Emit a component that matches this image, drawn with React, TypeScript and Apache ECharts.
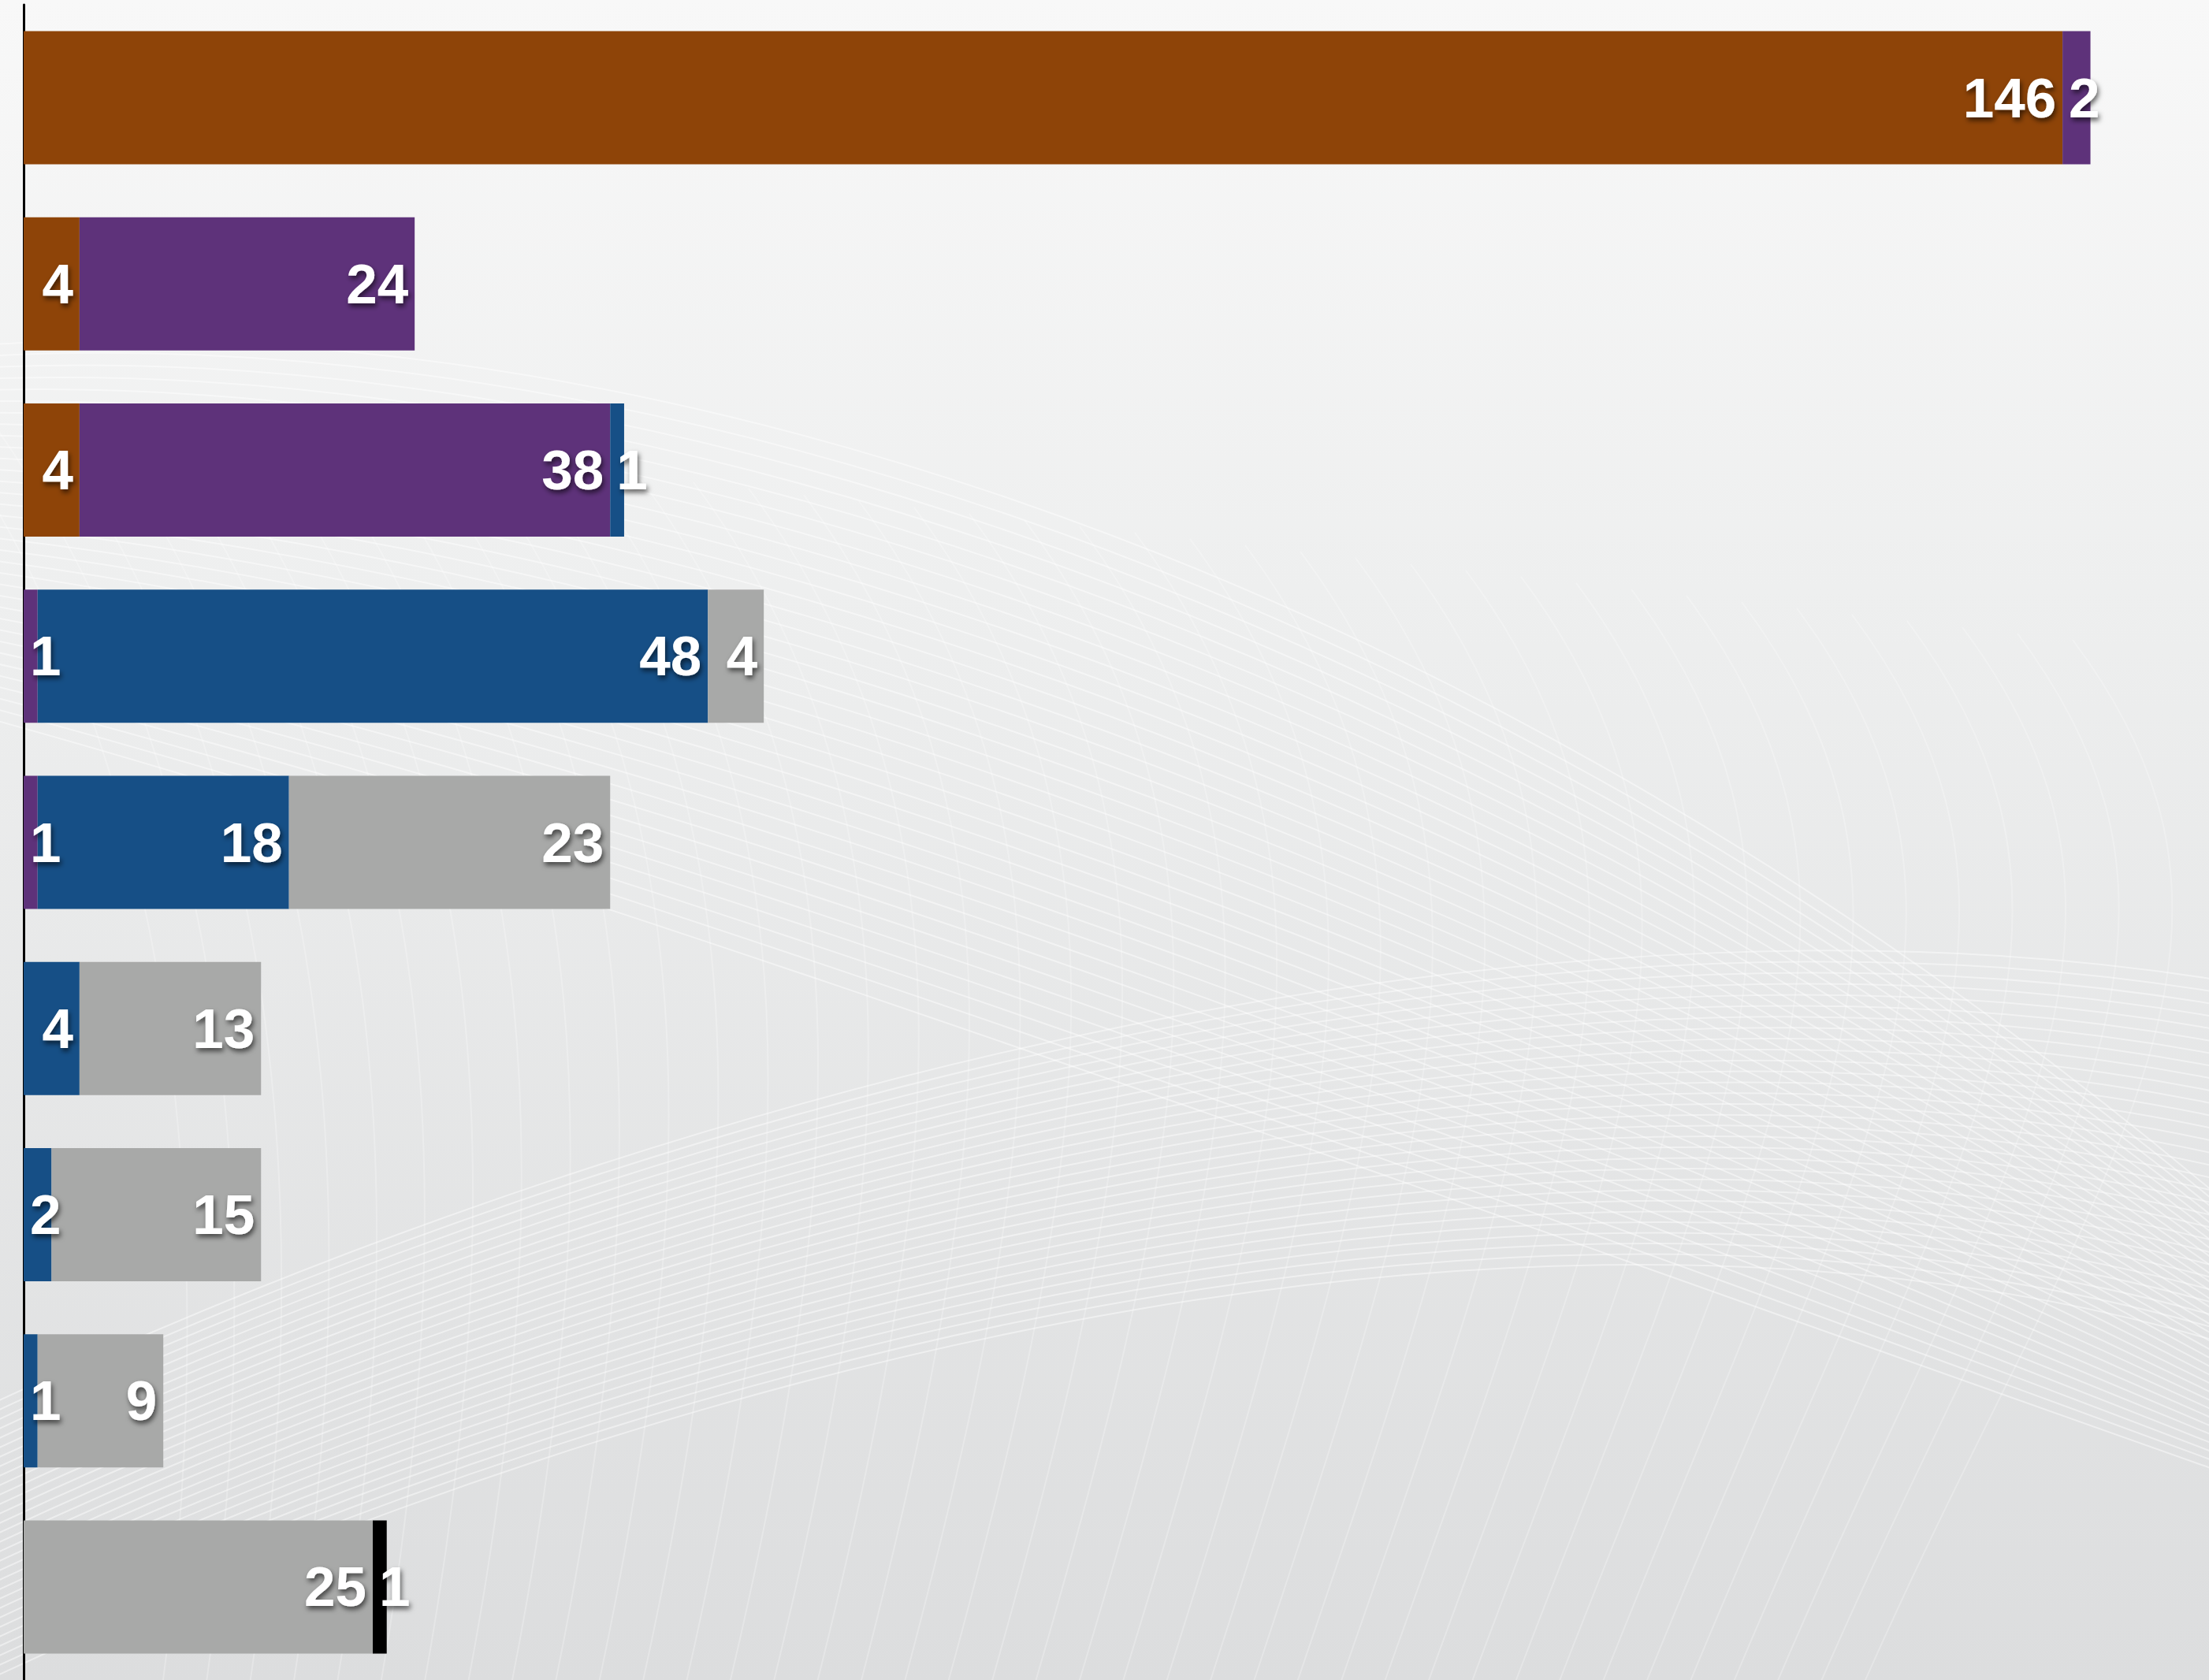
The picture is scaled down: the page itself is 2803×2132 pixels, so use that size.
import React, { useEffect, useRef } from "react";
import * as echarts from "echarts";

const categories = ["A", "B", "C", "D", "E", "F", "G", "H", "I"];
const brownValues = [146, 4, 4, 0, 0, 0, 0, 0, 0];
const purpleValues = [2, 24, 38, 1, 1, 0, 0, 0, 0];
const blueValues = [0, 0, 1, 48, 18, 4, 2, 1, 0];
const grayValues = [0, 0, 0, 4, 23, 13, 15, 9, 25];
const blackValues = [0, 0, 0, 0, 0, 0, 0, 0, 1];

const seriesDefs = [
  { name: "Brown", values: brownValues, color: "#8E4408" },
  { name: "Purple", values: purpleValues, color: "#5E327A" },
  { name: "Blue", values: blueValues, color: "#164F86" },
  { name: "Gray", values: grayValues, color: "#A8A9A8" },
  { name: "Black", values: blackValues, color: "#000000" },
];

const W = 2803;
const H = 2132;

function meshCurves() {
  const els: any[] = [];
  const stroke = "rgba(255,255,255,0.45)";
  // upper wave family
  for (let i = 0; i < 34; i++) {
    els.push({
      type: "bezierCurve",
      silent: true,
      shape: {
        x1: -50, y1: 440 + i * 14,
        cpx1: 700, cpy1: 380 + i * 22,
        cpx2: 1800, cpy2: 650 + i * 26,
        x2: W + 50, y2: 1550 + i * 10,
      },
      style: { stroke, lineWidth: 2, fill: null },
    });
  }
  // lower wave family (parallel strands)
  for (let i = 0; i < 30; i++) {
    els.push({
      type: "bezierCurve",
      silent: true,
      shape: {
        x1: -50, y1: 1800 + i * 12,
        cpx1: 900, cpy1: 1350 + i * 12,
        cpx2: 2000, cpy2: 1100 + i * 12,
        x2: W + 50, y2: 1250 + i * 16,
      },
      style: { stroke, lineWidth: 2, fill: null },
    });
  }
  // crossing strands
  for (let i = 0; i < 40; i++) {
    els.push({
      type: "bezierCurve",
      silent: true,
      shape: {
        x1: -100 + i * 70, y1: 500 + i * 8,
        cpx1: 200 + i * 70, cpy1: 900 + i * 8,
        cpx2: 300 + i * 60, cpy2: 1500,
        x2: 200 + i * 55, y2: H + 50,
      },
      style: { stroke: "rgba(255,255,255,0.25)", lineWidth: 2, fill: null },
    });
  }
  return els;
}

export default function App() {
  const ref = useRef<HTMLDivElement>(null);
  useEffect(() => {
    document.body.style.margin = "0";
    const chart = echarts.init(ref.current!, null, { renderer: "svg", width: W, height: H });
    const series = seriesDefs.map((s) => ({
      name: s.name,
      type: "bar",
      stack: "total",
      barWidth: 169,
      itemStyle: { color: s.color },
      data: s.values.map((v) => {
        if (!v) return null;
        return {
          value: v,
          label: {
            show: true,
            position: v <= 2 ? "insideLeft" : "insideRight",
            distance: 8,
          },
        };
      }),
      label: {
        show: true,
        color: "#FFFFFF",
        fontFamily: "Liberation Sans, Arial, Helvetica, sans-serif",
        fontWeight: "bold",
        fontSize: 71,
        textShadowColor: "rgba(0,0,0,0.6)",
        textShadowBlur: 6,
        textShadowOffsetX: 2,
        textShadowOffsetY: 4,
      },
    }));
    chart.setOption({
      animation: false,
      backgroundColor: {
        type: "linear",
        x: 0, y: 0, x2: 0, y2: 1,
        colorStops: [
          { offset: 0, color: "#F8F8F8" },
          { offset: 0.35, color: "#EEEFEF" },
          { offset: 1, color: "#DCDDDE" },
        ],
      },
      graphic: { elements: meshCurves() },
      grid: { left: 30, right: 115, top: 6, bottom: 0, containLabel: false },
      xAxis: {
        type: "value",
        min: 0,
        max: 150,
        show: false,
      },
      yAxis: {
        type: "category",
        data: categories,
        inverse: true,
        offset: 1.5,
        axisLine: { show: true, lineStyle: { color: "#000000", width: 3 } },
        axisTick: { show: false },
        axisLabel: { show: false },
        splitLine: { show: false },
      },
      series,
    });
    return () => chart.dispose();
  }, []);
  return <div ref={ref} style={{ position: "absolute", left: 0, top: 0, width: W, height: H }} />;
}
